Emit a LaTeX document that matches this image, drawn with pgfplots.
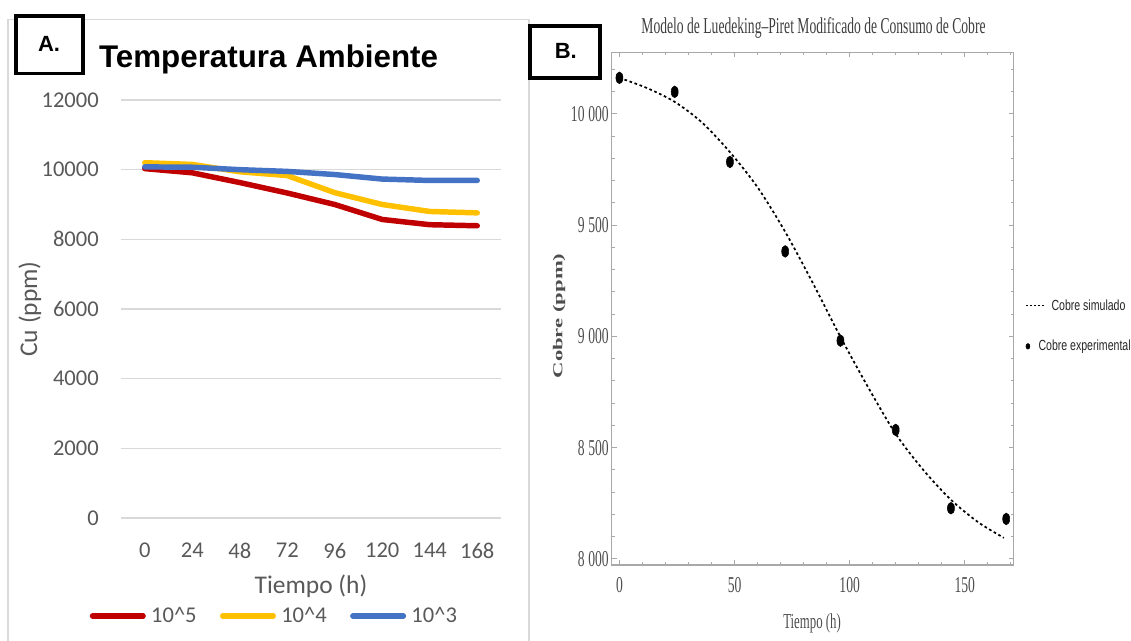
\documentclass[border=0pt]{standalone}
\usepackage{pgfplots}
\usepackage{pgfplotstable}
\pgfplotsset{compat=1.18}
\usepackage{fontspec}
\setmainfont{Carlito}
\newfontfamily\arialfont{Liberation Sans}
\newfontfamily\timesnarrow[FakeStretch=0.6]{Liberation Serif}
\newfontfamily\timesfont{Liberation Serif}
\newfontfamily\sansnarrow[FakeStretch=0.72]{Liberation Sans}

\definecolor{xlred}{HTML}{C00000}
\definecolor{xlgold}{HTML}{FFC000}
\definecolor{xlblue}{HTML}{4472C4}
\definecolor{xltext}{HTML}{595959}
\definecolor{xlgrid}{HTML}{D9D9D9}
\definecolor{mmaframe}{HTML}{A8A8A8}
\definecolor{mmatext}{HTML}{4D4D4D}

% Cu (ppm) at room temperature for three inoculum levels
\pgfplotstableread{
t    r5     r4     r3
0    10030  10200  10080
24   9910   10150  10070
48   9630   9940   10000
72   9330   9830   9950
96   9000   9340   9860
120  8570   9000   9730
144  8420   8800   9690
168  8390   8760   9690
}\tblA

% experimental copper
\pgfplotstableread{
t    cu
0    10162
24   10099
48   9784
72   9382
96   8981
120  8580
144  8228
168  8180
}\tblExp

% simulated copper (modified Luedeking-Piret)
\pgfplotstableread{
t    cu
0    10162
12   10116
24   10054
36   9960
48   9828
60   9670
72   9470
84   9240
96   8998
108  8772
120  8562
132  8400
144  8266
156  8164
167  8095
}\tblSim

\begin{document}
\begin{tikzpicture}
\path[use as bounding box] (0pt,0pt) rectangle (848.25pt,-480.75pt);
\begin{scope}[x=0.75pt,y=-0.75pt]
  \coordinate (Aorig) at (121,518);
  \coordinate (Borig) at (611.7,565);
  % frame of panel A
  \draw[xlgrid, line width=1.1pt] (8,645) -- (8,19.5) -- (529,19.5) -- (529,645);
  \node[font=\arialfont\bfseries\fontsize{23.5}{28}\selectfont, anchor=base, inner sep=0pt] at (268.6,67.5) {Temperatura Ambiente};
  % panel B title
  \node[font=\timesnarrow\fontsize{17}{20}\selectfont, text=mmatext!80!black, anchor=base, inner sep=0pt] at (813.5,33.3) {Modelo de Luedeking–Piret Modificado de Consumo de Cobre};
\end{scope}

% ---------- Panel A ----------
\begin{axis}[
  at={(Aorig)}, anchor=south west,
  width=285pt, height=313.5pt, scale only axis,
  xmin=-12, xmax=180, ymin=0, ymax=12000,
  scaled y ticks=false, scaled x ticks=false,
  axis line style={draw=none},
  major tick length=0pt, tick style={draw=none},
  xtick={0,24,...,168},
  ytick={0,2000,...,12000},
  yticklabels={0,2000,4000,6000,8000,10000,12000},
  /pgf/number format/assume math mode=true,
  ymajorgrids, grid style={xlgrid, line width=1.1pt},
  ticklabel style={font=\fontsize{16.9}{20}\selectfont, text=xltext},
  yticklabel style={anchor=east, inner sep=0pt, xshift=-16.5pt},
  xticklabel style={anchor=center, inner sep=0pt, yshift=-24.4pt},
  xlabel={Tiempo (h)}, ylabel={Cu (ppm)},
  label style={font=\fontsize{19.1}{22}\selectfont, text=xltext},
  xlabel style={at={(axis description cs:0.5,-0.164)}, anchor=center},
  ylabel style={at={(axis description cs:-0.2395,0.5)}, anchor=center},
  legend columns=3,
  legend cell align=left,
  legend image code/.code={\draw[#1, line cap=round] (0pt,0pt) -- (37.9pt,0pt);},
  legend style={at={(axis description cs:0.401,-0.2344)}, anchor=center,
    draw=none, fill=none, inner sep=0pt, column sep=0pt,
    font=\fontsize{16.9}{20}\selectfont, text=xltext,
    nodes={inner sep=0pt},
    /tikz/every odd column/.append style={column sep=4pt},
    /tikz/every even column/.append style={column sep=17.5pt}},
]
\addplot[xlred, line width=4.1pt, line join=round, line cap=round] table[x=t,y=r5]{\tblA};
\addlegendentry{10\textasciicircum 5}
\addplot[xlgold, line width=4.1pt, line join=round, line cap=round] table[x=t,y=r4]{\tblA};
\addlegendentry{10\textasciicircum 4}
\addplot[xlblue, line width=4.1pt, line join=round, line cap=round] table[x=t,y=r3]{\tblA};
\addlegendentry{10\textasciicircum 3}
\end{axis}

% ---------- Panel B ----------
\begin{axis}[
  at={(Borig)}, anchor=south west,
  width=301.4pt, height=384.4pt, scale only axis,
  xmin=-3.36, xmax=171.2, ymin=7973, ymax=10276,
  scaled y ticks=false, scaled x ticks=false,
  axis line style={mmaframe, line width=1.1pt},
  xtick={0,50,100,150}, minor xtick={0,10,...,170},
  ytick={8000,8500,...,10000}, minor ytick={8000,8100,...,10200},
  yticklabels={8\,000,8\,500,9\,000,9\,500,10\,000},
  /pgf/number format/assume math mode=true,
  tick align=inside, major tick length=3.75pt, minor tick length=2.25pt,
  tick style={mmaframe, line width=0.75pt},
  ticklabel style={font=\timesnarrow\fontsize{17}{20}\selectfont, text=mmatext},
  yticklabel style={anchor=east, inner sep=0pt, xshift=-2pt},
  xticklabel style={anchor=north, inner sep=0pt, yshift=-9pt},
  xlabel={Tiempo (h)},
  xlabel style={font=\timesnarrow\fontsize{16}{20}\selectfont, text=mmatext,
    at={(axis description cs:0.4985,-0.1132)}, anchor=center},
  ylabel={\scalebox{1}[0.6]{\timesfont\bfseries Cobre (ppm)}},
  ylabel style={font=\fontsize{17}{20}\selectfont, text=mmatext,
    at={(axis description cs:-0.131,0.486)}, anchor=center},
  legend cell align=left,
  legend style={at={(axis description cs:1.0286,0.4663)}, anchor=west,
    draw=none, fill=none, inner sep=0pt, column sep=0pt, row sep=21pt,
    font=\sansnarrow\fontsize{11}{13}\selectfont, text=black!85,
    nodes={inner sep=0pt},
    /tikz/every odd column/.append style={column sep=3.75pt}},
]
\addplot[black, line width=1.3pt, dash pattern=on 2pt off 2pt, smooth,
  legend image code/.code={\draw[black, line width=0.9pt, dash pattern=on 1.5pt off 1.5pt] (0pt,0pt) -- (15pt,0pt);}]
  table[x=t,y=cu]{\tblSim};
\addlegendentry{Cobre simulado}
\addplot[only marks, mark=*, mark size=4.4pt, mark options={fill=black, draw=black, xscale=0.6},
  legend image code/.code={\fill[black] (1.5pt,0pt) ellipse [x radius=1.5pt, y radius=2.1pt]; \path (15pt,0pt);}]
  table[x=t,y=cu]{\tblExp};
\addlegendentry{\hspace*{-9.75pt}Cobre experimental}
\end{axis}

% ---------- panel tags ----------
\begin{scope}[x=0.75pt,y=-0.75pt]
  \draw[black, line width=2.6pt, fill=white] (15.9,15.9) rectangle (82.8,73.3);
  \node[font=\arialfont\bfseries\fontsize{16.5}{20}\selectfont, anchor=base, inner sep=0pt] at (49,51.4) {A.};
  \draw[black, line width=3pt, fill=white] (530.3,26) rectangle (599.7,78);
  \node[font=\arialfont\bfseries\fontsize{16.5}{20}\selectfont, anchor=base, inner sep=0pt] at (565.8,58.3) {B.};
\end{scope}
\end{tikzpicture}
\end{document}
